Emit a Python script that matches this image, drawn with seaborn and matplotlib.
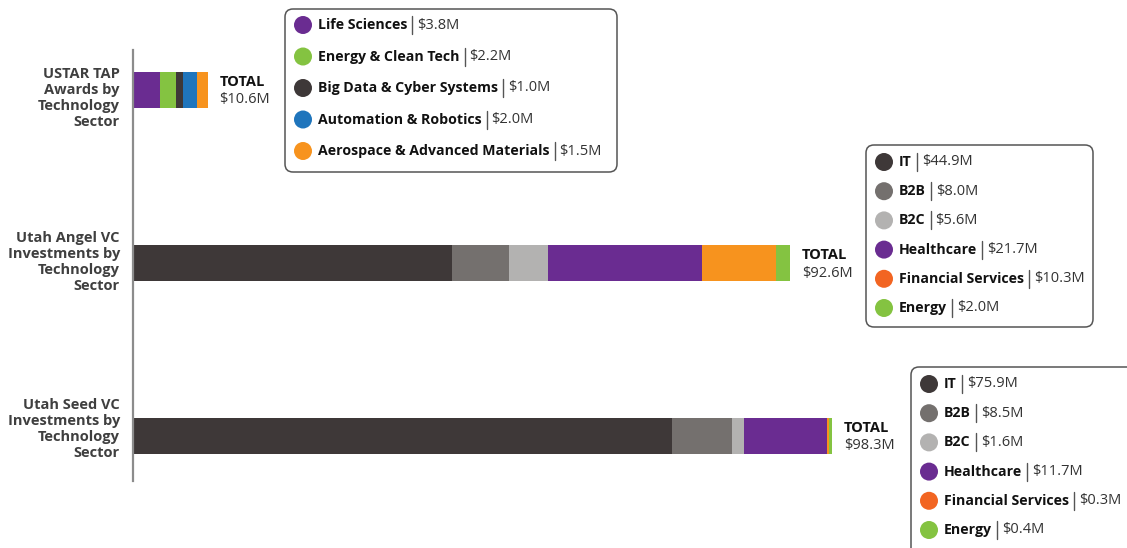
import matplotlib
matplotlib.use("Agg")
import matplotlib.pyplot as plt
from matplotlib.patches import FancyBboxPatch, Circle
from matplotlib.transforms import offset_copy
import seaborn as sns
import pandas as pd

# ---- data -------------------------------------------------------------
row_labels = [
    "USTAR TAP\nAwards by\nTechnology\nSector",
    "Utah Angel VC\nInvestments by\nTechnology\nSector",
    "Utah Seed VC\nInvestments by\nTechnology\nSector",
]
tap_sectors = ["Life Sciences", "Energy & Clean Tech", "Big Data & Cyber Systems",
               "Automation & Robotics", "Aerospace & Advanced Materials"]
tap_values = [3.8, 2.2, 1.0, 2.0, 1.5]
vc_sectors = ["IT", "B2B", "B2C", "Healthcare", "Financial Services", "Energy"]
angel_values = [44.9, 8.0, 5.6, 21.7, 10.3, 2.0]
seed_values = [75.9, 8.5, 1.6, 11.7, 0.3, 0.4]
totals = [10.6, 92.6, 98.3]

# ---- colours ----------------------------------------------------------
DARK, MID, LIGHT = "#3e3838", "#74706e", "#b3b2b1"
PURPLE, GREEN, BLUE = "#6a2c91", "#84c341", "#1f75bc"
ORANGE, RED_ORANGE = "#f7931e", "#f26522"
tap_bar_colors = [PURPLE, GREEN, DARK, BLUE, ORANGE]
vc_bar_colors = [DARK, MID, LIGHT, PURPLE, ORANGE, GREEN]
vc_key_colors = [DARK, MID, LIGHT, PURPLE, RED_ORANGE, GREEN]

sns.set_theme(style="white")
plt.rcParams["font.family"] = ["Open Sans", "DejaVu Sans"]

W, H = 1127, 548
fig = plt.figure(figsize=(W / 100, H / 100), dpi=100)

# main bar axes: x=0 at 133 px, 7.1 px per $1M
ax_left, ax_top, ax_bottom = 133, 50, 481
ax = fig.add_axes([ax_left / W, (H - ax_bottom) / H, (W - ax_left) / W,
                   (ax_bottom - ax_top) / H])

segments = [
    (row_labels[0], tap_values, tap_bar_colors),
    (row_labels[1], angel_values, vc_bar_colors),
    (row_labels[2], seed_values, vc_bar_colors),
]
for label, values, colors in segments:
    cum = pd.Series(values).cumsum().tolist()
    # draw longest cumulative first so each shorter one sits on top
    for end, col in reversed(list(zip(cum, colors))):
        df = pd.DataFrame({"row": [label], "value": [end]})
        sns.barplot(data=df, x="value", y="row", order=row_labels, orient="h",
                    color=col, saturation=1, width=0.203, ax=ax, linewidth=0)

px_per_unit = 7.1
ax.set_xlim(0, (W - ax_left) / px_per_unit)
row_px = 173.0
ax.set_ylim(2 + (ax_bottom - 436) / row_px, -(90 - ax_top) / row_px)
ax.set_xlabel("")
ax.set_ylabel("")
ax.set_xticks([])
ax.set_yticks([])
for side in ["top", "right", "bottom"]:
    ax.spines[side].set_visible(False)
ax.spines["left"].set_color("#8c8c8c")
ax.spines["left"].set_linewidth(1.6)

# row titles to the left of the axis line
label_shift = [0.046, -0.005, -0.04]
for i, lab in enumerate(row_labels):
    ax.text(-13 / px_per_unit, i + label_shift[i], lab, ha="right", va="center",
            fontsize=10.5, fontweight="bold", color="#3f3f3f", linespacing=1.18)

# totals at the end of each bar
for i, tot in enumerate(totals):
    end = sum(segments[i][1])
    tr_up = offset_copy(ax.transData, fig=fig, x=12, y=8, units="dots")
    tr_dn = offset_copy(ax.transData, fig=fig, x=12, y=-10, units="dots")
    ax.text(end, i, "TOTAL", transform=tr_up, ha="left", va="center",
            fontsize=10.5, fontweight="bold", color="#111111")
    ax.text(end, i, f"${tot:.1f}M", transform=tr_dn, ha="left", va="center",
            fontsize=10.5, color="#333333")

# ---- keys drawn on a pixel-space overlay ------------------------------
ov = fig.add_axes([0, 0, 1, 1], facecolor="none")
ov.set_xlim(0, W)
ov.set_ylim(H, 0)
ov.axis("off")

keys = [
    dict(box=(285, 9, 617, 172), y0=25, step=31.5, dot_x=303,
         names=tap_sectors, values=tap_values, colors=tap_bar_colors),
    dict(box=(866, 145, 1093, 327), y0=162, step=29.2, dot_x=884,
         names=vc_sectors, values=angel_values, colors=vc_key_colors),
    dict(box=(911, 367, 1145, 565), y0=384, step=29.2, dot_x=929,
         names=vc_sectors, values=seed_values, colors=vc_key_colors),
]

fig.canvas.draw()
renderer = fig.canvas.get_renderer()
for k in keys:
    l, t, r, b = k["box"]
    ov.add_patch(FancyBboxPatch((l, t), r - l, b - t,
                                boxstyle="round,pad=0,rounding_size=8",
                                fc="white", ec="#555555", lw=1.1,
                                clip_on=False))
    for j, (name, val, col) in enumerate(zip(k["names"], k["values"], k["colors"])):
        y = k["y0"] + j * k["step"]
        ov.add_patch(Circle((k["dot_x"], y), 9, fc=col, ec="none"))
        tx = k["dot_x"] + 15
        t_name = ov.text(tx, y, name, ha="left", va="center", fontsize=10.2,
                         fontweight="bold", color="#111111")
        bb = t_name.get_window_extent(renderer)
        x_end = tx + bb.width
        ov.plot([x_end + 5, x_end + 5], [y - 9, y + 9], color="#555555", lw=1)
        ov.text(x_end + 10, y, f"${val:.1f}M", ha="left", va="center",
                fontsize=10.5, color="#333333")

fig.savefig("out.png", dpi=100)
